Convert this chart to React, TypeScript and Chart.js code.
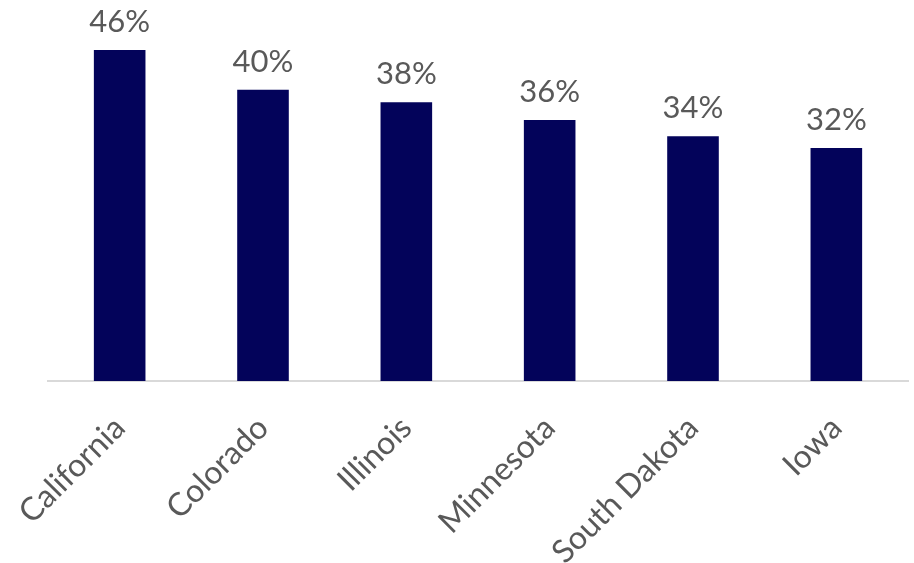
import React, { useEffect, useRef } from "react";
import { Chart, registerables } from "chart.js";

Chart.register(...registerables);

const categories = ["California", "Colorado", "Illinois", "Minnesota", "South Dakota", "Iowa"];
const values = [45.6, 40.1, 38.4, 35.95, 33.7, 32.1];
const valueLabels = ["46%", "40%", "38%", "36%", "34%", "32%"];

const FONT = "Lato, 'Open Sans', sans-serif";

const labelPlugin = {
  id: "barLabels",
  afterDatasetsDraw(chart: any) {
    const ctx = chart.ctx;
    const meta = chart.getDatasetMeta(0);
    ctx.save();
    ctx.fillStyle = "#595959";
    ctx.font = `31px ${FONT}`;
    ctx.textAlign = "center";
    ctx.textBaseline = "alphabetic";
    meta.data.forEach((bar: any, i: number) => {
      ctx.fillText(valueLabels[i], bar.x, bar.y - 18);
    });
    ctx.restore();
  },
};

export default function App() {
  const ref = useRef<HTMLCanvasElement>(null);
  useEffect(() => {
    if (!ref.current) return;
    const chart = new Chart(ref.current, {
      type: "bar",
      data: {
        labels: categories,
        datasets: [
          {
            data: values,
            backgroundColor: "#03035A",
            borderWidth: 0,
            barPercentage: 0.36,
            categoryPercentage: 1,
          },
        ],
      },
      options: {
        responsive: false,
        animation: false,
        layout: { padding: { left: 48, right: 6, top: 18, bottom: 0 } },
        plugins: { legend: { display: false }, tooltip: { enabled: false } },
        scales: {
          y: { display: false, min: 0, max: 50 },
          x: {
            afterFit: (axis: any) => {
              axis.height = 182;
              axis.paddingLeft = 0;
              axis.paddingRight = 0;
            },
            grid: { display: false, drawTicks: false },
            border: { display: true, color: "#d9d9d9", width: 2 },
            ticks: {
              minRotation: 45,
              maxRotation: 45,
              color: "#595959",
              padding: 28,
              font: { family: FONT, size: 32 },
            },
          },
        },
      },
      plugins: [labelPlugin],
    });
    return () => chart.destroy();
  }, []);
  return (
    <div style={{ position: "absolute", left: 0, top: 0, width: 914, height: 563, background: "#fff" }}>
      <canvas ref={ref} width={914} height={563} />
    </div>
  );
}
